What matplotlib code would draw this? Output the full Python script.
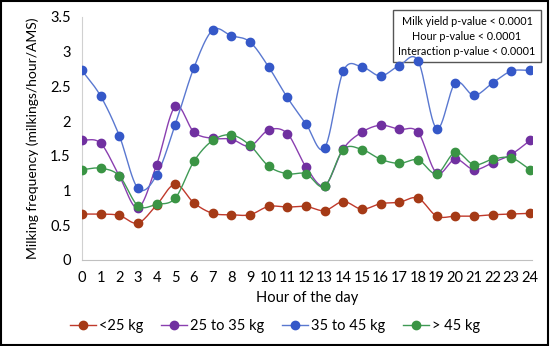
import matplotlib

matplotlib.use("Agg")
import matplotlib.pyplot as plt
import numpy as np
from matplotlib.lines import Line2D
from matplotlib.patches import Rectangle

plt.rcParams["font.family"] = ["Lato", "DejaVu Sans"]

hours = list(range(25))
series_names = ["<25 kg", "25 to 35 kg", "35 to 45 kg", "> 45 kg"]
under_25 = [0.66, 0.66, 0.64, 0.53, 0.79, 1.09, 0.82, 0.67, 0.65, 0.65, 0.77, 0.76, 0.77,
            0.71, 0.84, 0.73, 0.81, 0.83, 0.89, 0.63, 0.63, 0.63, 0.65, 0.66, 0.67]
from_25_to_35 = [1.73, 1.68, 1.21, 0.75, 1.37, 2.21, 1.84, 1.75, 1.74, 1.64, 1.87, 1.82, 1.34,
                 1.07, 1.60, 1.84, 1.94, 1.88, 1.84, 1.25, 1.45, 1.30, 1.40, 1.52, 1.72]
from_35_to_45 = [2.73, 2.36, 1.79, 1.03, 1.22, 1.95, 2.77, 3.31, 3.23, 3.14, 2.78, 2.34, 1.96,
                 1.61, 2.72, 2.78, 2.65, 2.80, 2.87, 1.89, 2.55, 2.37, 2.55, 2.72, 2.73]
over_45 = [1.30, 1.32, 1.21, 0.78, 0.80, 0.89, 1.42, 1.72, 1.80, 1.65, 1.35, 1.24, 1.24,
           1.06, 1.59, 1.59, 1.45, 1.39, 1.44, 1.24, 1.55, 1.37, 1.45, 1.47, 1.30]
all_series = [under_25, from_25_to_35, from_35_to_45, over_45]
line_colors = ["#c0392b", "#8a3fb0", "#5a78d0", "#3f9a55"]
marker_colors = ["#a53a16", "#7030a0", "#3558c8", "#3a9444"]
stats_text = "Milk yield p-value < 0.0001\nHour p-value < 0.0001\nInteraction p-value < 0.0001"


def smooth(x, y, n=12):
    # Catmull-Rom through the points, like Excel's smoothed lines
    x = np.asarray(x, float)
    y = np.asarray(y, float)
    px = np.concatenate([[2 * x[0] - x[1]], x, [2 * x[-1] - x[-2]]])
    py = np.concatenate([[2 * y[0] - y[1]], y, [2 * y[-1] - y[-2]]])
    t = np.linspace(0, 1, n, endpoint=False)
    xs, ys = [], []
    for i in range(1, len(px) - 2):
        for p, out in ((px, xs), (py, ys)):
            p0, p1, p2, p3 = p[i - 1], p[i], p[i + 1], p[i + 2]
            out.extend(0.5 * (2 * p1 + (-p0 + p2) * t
                              + (2 * p0 - 5 * p1 + 4 * p2 - p3) * t ** 2
                              + (-p0 + 3 * p1 - 3 * p2 + p3) * t ** 3))
    xs.append(x[-1])
    ys.append(y[-1])
    return np.array(xs), np.array(ys)


fig = plt.figure(figsize=(5.5, 3.46), dpi=100)
ax = fig.add_axes([0.149, 0.249, 0.818, 0.702])

for vals, lc, mc in zip(all_series, line_colors, marker_colors):
    sx, sy = smooth(hours, vals)
    ax.plot(sx, sy, color=lc, linewidth=1.0, zorder=2)
    ax.plot(hours, vals, linestyle="none", marker="o", markersize=6,
            markerfacecolor=mc, markeredgecolor=mc, zorder=3)

ax.set_xlim(0, 24.1)
ax.set_ylim(0, 3.5)
ax.set_xticks(hours)
ax.set_xticklabels([str(h) for h in hours], fontsize=10.5)
ax.set_yticks([0, 0.5, 1, 1.5, 2, 2.5, 3, 3.5])
ax.set_yticklabels(["0", "0.5", "1", "1.5", "2", "2.5", "3", "3.5"], fontsize=10.5)
ax.tick_params(length=0, pad=8)
ax.spines[["top", "right"]].set_visible(False)
ax.spines["left"].set_color("#d0d0d0")
ax.spines["bottom"].set_color("#c0c0c0")
ax.set_xlabel("Hour of the day", fontsize=10.5, labelpad=4)
ax.set_ylabel("Milking frequency (milkings/hour/AMS)", fontsize=10, labelpad=8)

# stats box sits under the series so the hour-18 point shows on top of it
ax.text(0.849, 0.955, stats_text, transform=fig.transFigure, ha="center", va="top",
        fontsize=7.8, linespacing=1.45, zorder=1.5, clip_on=False,
        bbox=dict(boxstyle="square,pad=0.5", facecolor="white", edgecolor="#555555"))

handles = [Line2D([], [], color=lc, marker="o", markersize=6, markerfacecolor=mc,
                  markeredgecolor=mc, linewidth=1.0)
           for lc, mc in zip(line_colors, marker_colors)]
fig.legend(handles, series_names, loc="center", bbox_to_anchor=(0.5, 0.058), ncol=4,
           frameon=False, fontsize=10.5, handlelength=1.8, handletextpad=0.2, columnspacing=1.2)

fig.patches.append(Rectangle((0.002, 0.003), 0.995, 0.993, transform=fig.transFigure,
                             fill=False, edgecolor="black", linewidth=1.5))

fig.savefig("out.png", dpi=100)
plt.close(fig)
